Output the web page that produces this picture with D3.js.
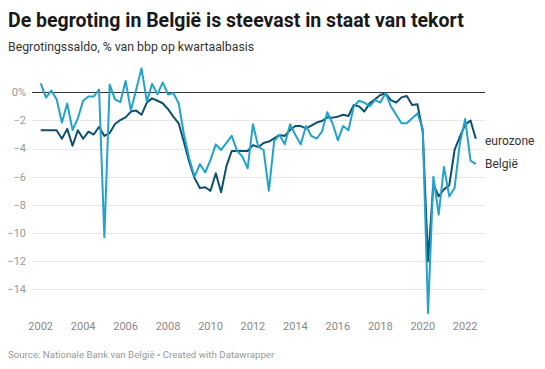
<!DOCTYPE html>
<html>
<head>
<meta charset="utf-8">
<script src="https://cdn.jsdelivr.net/npm/d3@7"></script>
<style>
  html, body { margin: 0; padding: 0; background: #fff; }
  svg { display: block; font-family: Roboto, "Noto Sans", sans-serif; }
</style>
</head>
<body>
<svg id="chart" width="545" height="369"></svg>
<script>
const title = "De begroting in België is steevast in staat van tekort";
const subtitle = "Begrotingssaldo, % van bbp op kwartaalbasis";
const source = "Source: Nationale Bank van België • Created with Datawrapper";

// Quarterly periods 2002Q1 .. 2022Q3
const quarters = [];
for (let y = 2002; y <= 2022; y++) for (let q = 1; q <= 4; q++) {
  if (y === 2022 && q > 3) break;
  quarters.push(y + "Q" + q);
}

const belgie = [
  0.64, -0.38, 0.12, -0.5, -2.15, -0.8, -2.68, -1.85, -0.6, -0.3, -0.3, 0.2,
  -10.3, 0.55, -0.5, -0.7, 0.8, -1.3, 0.2, 1.7, -0.65, 0.6, -0.15, 0.7,
  -0.15, -0.05, -0.78, -3.0, -4.7, -6.0, -5.1, -5.7, -4.8, -3.7, -4.1, -3.6,
  -3.1, -4.15, -4.57, -5.4, -2.27, -3.86, -4.1, -7.0, -3.46, -3.03, -3.7, -2.27,
  -3.03, -3.7, -2.4, -3.1, -3.3, -2.8, -1.42, -2.2, -3.4, -2.4, -2.7, -1.0,
  -0.6, -0.73, -1.0, -0.55, -0.73, -0.07, -1.0, -1.6, -2.2, -2.2, -1.85, -1.5,
  -2.6, -15.7, -6.0, -8.7, -5.3, -7.4, -6.8, -3.6, -1.9, -4.86, -5.1
];

const eurozone = [
  -2.7, -2.7, -2.7, -2.7, -3.3, -2.6, -3.8, -2.7, -3.3, -2.8, -3.0, -2.45,
  -3.1, -2.9, -2.25, -1.97, -1.78, -1.37, -1.3, -1.6, -0.73, -0.43, -0.6, -0.78,
  -1.2, -1.73, -2.2, -3.55, -4.95, -6.1, -6.8, -6.75, -7.0, -5.75, -7.1, -5.25,
  -4.17, -4.17, -4.17, -4.17, -3.75, -3.9, -3.6, -3.5, -3.27, -3.03, -3.1, -2.68,
  -2.4, -2.4, -2.56, -2.37, -2.15, -2.04, -1.78, -1.8, -1.73, -1.6, -1.68, -0.9,
  -1.0, -1.37, -0.78, -0.5, -0.19, -0.07, -0.55, -0.73, -0.36, -0.26, -0.9, -0.85,
  -2.8, -12.0, -6.5, -7.4, -6.9, -6.6, -4.1, -3.15, -2.3, -2.0, -3.3
];

const yTicks = [0, -2, -4, -6, -8, -10, -12, -14];
const xTicks = [2002, 2004, 2006, 2008, 2010, 2012, 2014, 2016, 2018, 2020, 2022];

const seriesNames = ["eurozone", "België"];
const seriesColors = ["#0c4f6f", "#22a2cc"];

const svg = d3.select("#chart");

const toYear = q => +q.slice(0, 4) + (+q.slice(5) - 1) / 4;

const x = d3.scaleLinear().domain([2002, 2022]).range([40.7, 465.2]);
const y = d3.scaleLinear().domain([-14, 0]).range([289.3, 92.3]);

const gridLeft = 32, gridRight = 485;

// Title, subtitle
svg.append("text").attr("x", 8).attr("y", 27)
  .attr("font-size", 19.5).attr("font-weight", 700).attr("fill", "#1a1a1a")
  .text(title);
svg.append("text").attr("x", 8).attr("y", 51)
  .attr("font-size", 12.3).attr("fill", "#333")
  .text(subtitle);

// Gridlines
const grid = svg.append("g");
grid.selectAll("line").data(yTicks).join("line")
  .attr("x1", gridLeft).attr("x2", gridRight)
  .attr("y1", d => Math.round(y(d)) + 0.5).attr("y2", d => Math.round(y(d)) + 0.5)
  .attr("stroke", d => d === 0 ? "#333" : "#e6e6e6")
  .attr("stroke-width", 1);

// Y labels
svg.append("g").selectAll("text").data(yTicks).join("text")
  .attr("x", 26).attr("y", d => y(d)).attr("dy", "0.35em")
  .attr("text-anchor", "end").attr("font-size", 11).attr("fill", "#999")
  .text(d => d === 0 ? "0%" : (d < 0 ? "\u2212" + Math.abs(d) : d));

// X labels
svg.append("g").selectAll("text").data(xTicks).join("text")
  .attr("x", d => x(d)).attr("y", 330)
  .attr("text-anchor", "middle").attr("font-size", 11).attr("fill", "#888")
  .text(d => d);

// Lines
const series = [eurozone, belgie];
const line = d3.line().x(d => x(d.t)).y(d => y(d.v));
[0, 1].forEach(k => {
  const pts = quarters.map((q, i) => ({ t: toYear(q), v: series[k][i] }));
  svg.append("path").datum(pts)
    .attr("fill", "none")
    .attr("stroke", seriesColors[k])
    .attr("stroke-width", 2)
    .attr("stroke-linejoin", "round")
    .attr("d", line);
});

// Line labels
series.forEach((s, k) => {
  const last = s[s.length - 1];
  svg.append("text")
    .attr("x", gridRight)
    .attr("y", y(last) + (k === 0 ? 2 : 0))
    .attr("dy", "0.35em")
    .attr("font-size", 12).attr("fill", "#333")
    .text(seriesNames[k]);
});

// Source
svg.append("text").attr("x", 8).attr("y", 358)
  .attr("font-size", 9.7).attr("fill", "#999")
  .text(source);
</script>
</body>
</html>
